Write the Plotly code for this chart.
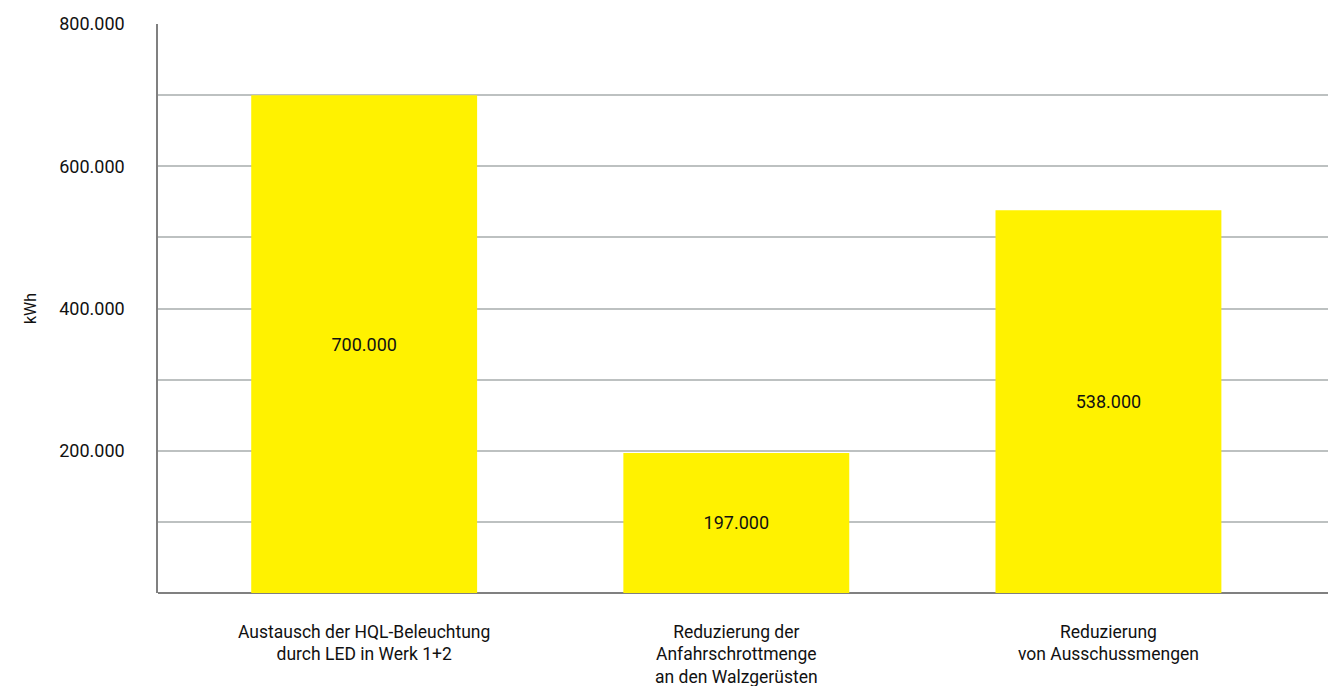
import plotly.graph_objects as go

categories = [
    "Austausch der HQL-Beleuchtung<br>durch LED in Werk 1+2",
    "Reduzierung der<br>Anfahrschrottmenge<br>an den Walzgerüsten",
    "Reduzierung<br>von Ausschussmengen",
]
values = [700000, 197000, 538000]
tick_vals = [200000, 400000, 600000, 800000]

FONT = "Roboto, Arial Narrow, sans-serif"

fig = go.Figure(
    go.Bar(
        x=list(range(len(categories))),
        y=values,
        width=0.607,
        marker=dict(color="#FFF200", line=dict(width=0)),
        texttemplate="%{y:,.0f}",
        textposition="inside",
        insidetextanchor="middle",
        textfont=dict(color="#111111", size=18, family=FONT),
        hoverinfo="skip",
    )
)

fig.update_layout(
    width=1330,
    height=686,
    margin=dict(l=158, r=2, t=24, b=93),
    paper_bgcolor="white",
    plot_bgcolor="white",
    separators=",.",
    showlegend=False,
    font=dict(family=FONT, size=18, color="#111111"),
    xaxis=dict(
        range=[-0.554, 2.59],
        tickvals=list(range(len(categories))),
        ticktext=categories,
        showgrid=False,
        zeroline=False,
        showline=False,
        ticks="",
        automargin=False,
        ticklabelstandoff=26,
        tickfont=dict(size=17.5, family=FONT),
    ),
    yaxis=dict(
        range=[0, 800000],
        tickvals=tick_vals,
        tickformat=",.0f",
        showgrid=True,
        gridcolor="#BDC1C1",
        gridwidth=1.5,
        minor=dict(dtick=100000, tick0=0, showgrid=True, gridcolor="#BDC1C1", gridwidth=1.5),
        zeroline=True,
        zerolinecolor="#808080",
        zerolinewidth=1.5,
        showline=True,
        linecolor="#808080",
        linewidth=1.5,
        ticks="",
        automargin=False,
        ticklabelstandoff=28,
        tickfont=dict(size=18, family=FONT),
        title=dict(text="kWh", standoff=19, font=dict(size=16, family=FONT)),
    ),
)

fig.write_html("out.html")
